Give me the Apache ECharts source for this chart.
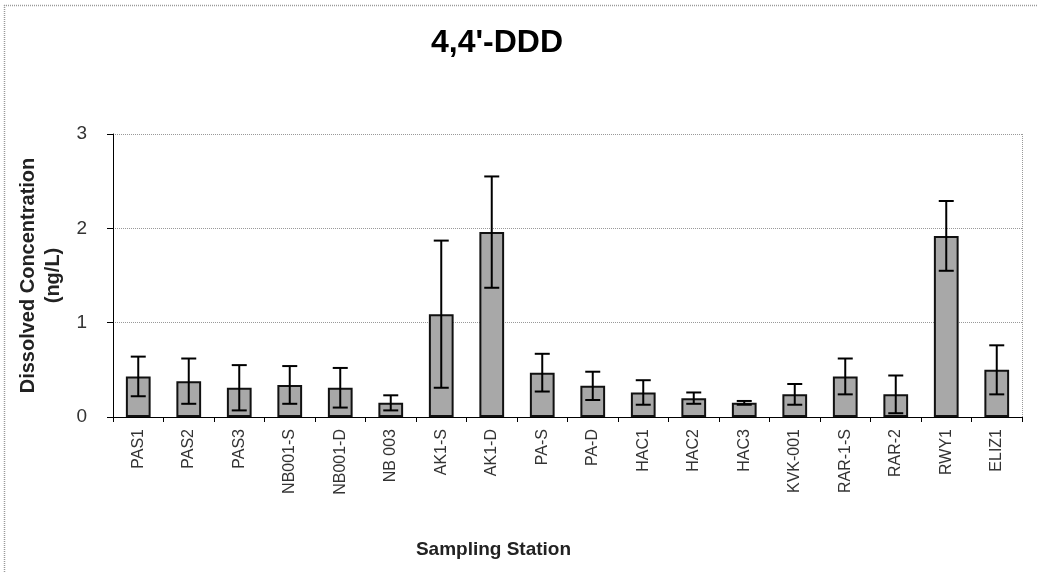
<!DOCTYPE html>
<html>
<head>
<meta charset="utf-8">
<script src="https://cdn.jsdelivr.net/npm/echarts@6/dist/echarts.min.js"></script>
<style>
html,body{margin:0;padding:0;background:#fff;}
#chart{width:1038px;height:572px;}
</style>
</head>
<body>
<div id="chart"></div>
<script>
const titleText = "4,4'-DDD";
const stations = ["PAS1","PAS2","PAS3","NB001-S","NB001-D","NB 003","AK1-S","AK1-D","PA-S","PA-D","HAC1","HAC2","HAC3","KVK-001","RAR-1-S","RAR-2","RWY1","ELIZ1"];
const concentration = [0.43,0.38,0.31,0.34,0.31,0.15,1.09,1.96,0.47,0.33,0.26,0.20,0.15,0.24,0.43,0.24,1.92,0.50];
const errorValues = [0.21,0.24,0.24,0.20,0.21,0.08,0.78,0.59,0.20,0.15,0.13,0.06,0.02,0.11,0.19,0.20,0.37,0.26];
const yTicks = [0,1,2,3];

const errData = stations.map((s,i)=>[i, concentration[i]-errorValues[i], concentration[i]+errorValues[i]]);

const chart = echarts.init(document.getElementById('chart'));
const FONT = 'Liberation Sans, Arial, sans-serif';
chart.setOption({
  animation:false,
  backgroundColor:'#ffffff',
  title:{
    text:titleText, left:426, top:22,
    textStyle:{fontFamily:FONT,fontSize:32,fontWeight:'bold',color:'#000'}
  },
  grid:{left:113,right:16,top:134,bottom:155,containLabel:false},
  xAxis:{
    type:'category', data:stations,
    name:'Sampling Station', nameLocation:'middle', nameGap:123,
    nameTextStyle:{fontFamily:FONT,fontSize:19,fontWeight:'bold',color:'#222',padding:[0,148,0,0]},
    axisLine:{lineStyle:{color:'#000',width:1}},
    axisTick:{show:true,alignWithLabel:false,length:5,lineStyle:{color:'#000'}},
    axisLabel:{rotate:90,margin:12,fontFamily:FONT,fontSize:16,color:'#333',interval:0}
  },
  yAxis:{
    type:'value', min:0, max:3, interval:1,
    name:'Dissolved Concentration\n(ng/L)', nameLocation:'middle', nameGap:44,
    nameTextStyle:{fontFamily:FONT,fontSize:20,fontWeight:'bold',color:'#222',lineHeight:25},
    axisLine:{show:true,lineStyle:{color:'#000',width:1}},
    axisTick:{show:true,length:6,lineStyle:{color:'#000'}},
    axisLabel:{margin:26,fontFamily:FONT,fontSize:19,color:'#333',formatter:v=>yTicks.includes(v)?String(v):''},
    splitLine:{show:true,lineStyle:{color:'#999',type:'dotted',width:1}}
  },
  series:[
    {
      type:'bar', data:concentration, barWidth:'49%',
      itemStyle:{color:'#a8a8a8',borderColor:'#111',borderWidth:2},
      z:2
    },
    {
      type:'custom', data:errData, z:5,
      renderItem:function(params,api){
        const x = api.value(0);
        const lo = api.coord([x, api.value(1)]);
        const hi = api.coord([x, api.value(2)]);
        const cap = 7.5;
        const style = {stroke:'#000',lineWidth:2};
        return {type:'group',children:[
          {type:'line',shape:{x1:hi[0],y1:hi[1],x2:lo[0],y2:lo[1]},style:style},
          {type:'line',shape:{x1:hi[0]-cap,y1:hi[1],x2:hi[0]+cap,y2:hi[1]},style:style},
          {type:'line',shape:{x1:lo[0]-cap,y1:lo[1],x2:lo[0]+cap,y2:lo[1]},style:style}
        ]};
      }
    }
  ],
  graphic:[
    {type:'line',shape:{x1:4.5,y1:5,x2:4.5,y2:572},style:{stroke:'#999',lineWidth:1.5,lineDash:[1,1]}},
    {type:'line',shape:{x1:4,y1:5.5,x2:1038,y2:5.5},style:{stroke:'#999',lineWidth:1.5,lineDash:[1,1]}},
    {type:'line',shape:{x1:1022.5,y1:134,x2:1022.5,y2:417},style:{stroke:'#999',lineWidth:1,lineDash:[1,1]}}
  ]
});
</script>
</body>
</html>
